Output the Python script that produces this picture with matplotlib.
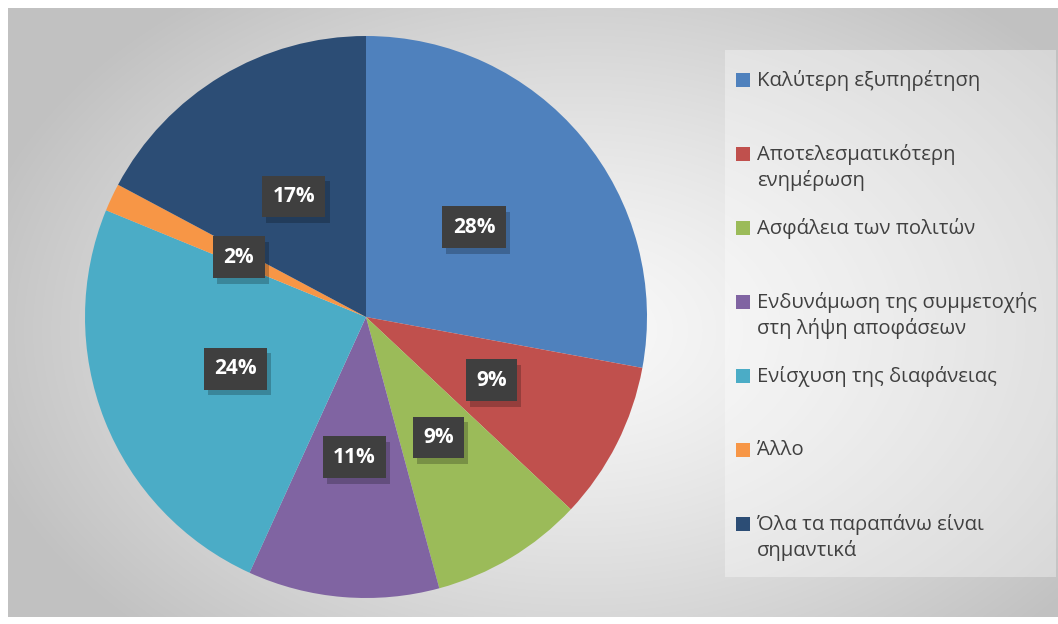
import numpy as np
import matplotlib
matplotlib.use("Agg")
import matplotlib.pyplot as plt
from matplotlib.patches import Rectangle
import matplotlib.patheffects as pe

categories = [
    "Καλύτερη εξυπηρέτηση",
    "Αποτελεσματικότερη\nενημέρωση",
    "Ασφάλεια των πολιτών",
    "Ενδυνάμωση της συμμετοχής\nστη λήψη αποφάσεων",
    "Ενίσχυση της διαφάνειας",
    "Άλλο",
    "Όλα τα παραπάνω είναι\nσημαντικά",
]
values = [27.9, 9.1, 8.8, 11.0, 24.4, 1.6, 17.2]
colors = ["#4F81BD", "#C0504D", "#9BBB59", "#8064A2", "#4BACC6", "#F79646", "#2C4D75"]

W, H = 1058, 624
fig = plt.figure(figsize=(W / 100, H / 100), dpi=100)
fig.patch.set_facecolor("white")

# background gradient axes
bg = fig.add_axes([0, 0, 1, 1])
bg.set_xlim(0, W)
bg.set_ylim(H, 0)
bg.axis("off")
yy, xx = np.mgrid[0:H, 0:W]
cx, cy = 580, 330
d = np.sqrt(((xx - cx) / 620.0) ** 2 + ((yy - cy) / 420.0) ** 2)
d = np.clip(d, 0, 1)
g = 0.975 - (0.975 - 0.76) * d ** 1.3
img = np.dstack([g, g, g])
x0, y0, x1, y1 = 8, 8, 1058, 617
bg.imshow(img[y0:y1, x0:x1], extent=(x0, x1, y1, y0), aspect="auto", zorder=0,
          interpolation="bilinear")

# legend box
bg.add_patch(Rectangle((725, 50), 331, 527, facecolor="white", alpha=0.35,
                       edgecolor="none", zorder=1))

# pie axes
pcx, pcy, R = 366, 317, 281
ax = fig.add_axes([(pcx - R) / W, (H - pcy - R) / H, 2 * R / W, 2 * R / H])

wedges, texts, autotexts = ax.pie(
    values, colors=colors, startangle=90, counterclock=False, radius=1,
    autopct=lambda p: f"{round(p):.0f}%", pctdistance=0.5,
    wedgeprops=dict(linewidth=0),
    textprops=dict(color="white", fontsize=15, fontweight="bold", family=["Open Sans", "DejaVu Sans"]),
)
ax.set_xlim(-1, 1)
ax.set_ylim(-1, 1)
ax.set_aspect("auto")
ax.axis("off")
for t in autotexts:
    t.set_bbox(dict(boxstyle="square,pad=0.5", facecolor="#3F3F3F", edgecolor="none"))
    t.get_bbox_patch().set_path_effects([
        pe.SimplePatchShadow(offset=(3, -4), shadow_rgbFace="#000000", alpha=0.22),
        pe.Normal(),
    ])

# legend (manual)
font = ["Open Sans", "DejaVu Sans"]
for i, (lab, col) in enumerate(zip(categories, colors)):
    yc = 80 + i * 74
    bg.add_patch(Rectangle((736, yc - 7), 14, 14, facecolor=col, edgecolor="none", zorder=3))
    bg.text(757, yc - 10, lab, fontsize=14.6, color="#404040", family=font,
            va="top", ha="left", linespacing=1.33, zorder=3)

fig.savefig("out.png", dpi=100, facecolor="white")
